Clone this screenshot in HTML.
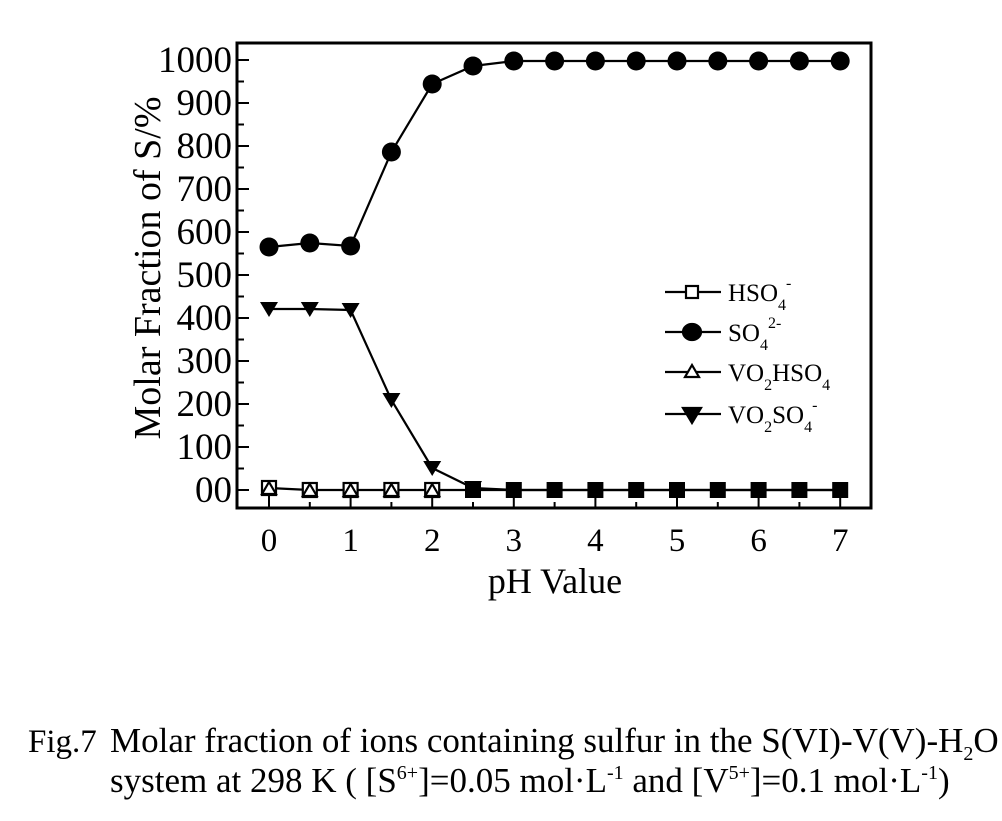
<!DOCTYPE html>
<html><head><meta charset="utf-8"><style>
body{margin:0;background:#fff;}
svg{display:block;font-family:"Liberation Serif",serif;}
</style></head><body>
<svg width="1002" height="821" viewBox="0 0 1002 821">
<rect x="237" y="43" width="634" height="465" fill="none" stroke="#000" stroke-width="3"/>
<g stroke="#000" stroke-width="2">
<path d="M237 60h12M237 103h12M237 146h12M237 189h12M237 232h12M237 275h12M237 318h12M237 361h12M237 404h12M237 447h12M237 490h12"/>
<path d="M237 81.5h7M237 124.5h7M237 167.5h7M237 210.5h7M237 253.5h7M237 296.5h7M237 339.5h7M237 382.5h7M237 425.5h7M237 468.5h7"/>
<path d="M269 508v-12M350.6 508v-12M432.2 508v-12M513.8 508v-12M595.4 508v-12M677 508v-12M758.6 508v-12M840.2 508v-12"/>
<path d="M309.8 508v-6M391.4 508v-6M473 508v-6M554.6 508v-6M636.2 508v-6M717.8 508v-6M799.4 508v-6"/>
</g>
<g font-size="37" text-anchor="end">
<text x="232" y="72">1000</text><text x="232" y="115">900</text><text x="232" y="158">800</text><text x="232" y="201">700</text><text x="232" y="244">600</text><text x="232" y="287">500</text><text x="232" y="330">400</text><text x="232" y="373">300</text><text x="232" y="416">200</text><text x="232" y="459">100</text><text x="232" y="502">00</text>
</g>
<g font-size="33" text-anchor="middle">
<text x="269" y="551">0</text><text x="350.6" y="551">1</text><text x="432.2" y="551">2</text><text x="513.8" y="551">3</text><text x="595.4" y="551">4</text><text x="677" y="551">5</text><text x="758.6" y="551">6</text><text x="840.2" y="551">7</text>
<text x="555" y="593" font-size="36">pH Value</text>
<text transform="translate(160,268) rotate(-90)" font-size="38">Molar Fraction of S/%</text>
</g>
<g fill="none" stroke="#000" stroke-width="2.2">
<polyline points="269,488 309.8,490 350.6,490 391.4,490 432.2,490 473,490 513.8,490 554.6,490 595.4,490 636.2,490 677,490 717.8,490 758.6,490 799.4,490 840.2,490"/>
<polyline points="269,247 309.8,243 350.6,246 391.4,152 432.2,84 473,66 513.8,61 554.6,61 595.4,61 636.2,61 677,61 717.8,61 758.6,61 799.4,61 840.2,61"/>
<polyline points="269,309 309.8,309 350.6,310 391.4,400 432.2,468 473,488 513.8,490 840.2,490"/>
</g>
<g fill="#000">
<circle cx="269" cy="247" r="9.5"/><circle cx="309.8" cy="243" r="9.5"/><circle cx="350.6" cy="246" r="9.5"/><circle cx="391.4" cy="152" r="9.5"/><circle cx="432.2" cy="84" r="9.5"/><circle cx="473" cy="66" r="9.5"/><circle cx="513.8" cy="61" r="9.5"/><circle cx="554.6" cy="61" r="9.5"/><circle cx="595.4" cy="61" r="9.5"/><circle cx="636.2" cy="61" r="9.5"/><circle cx="677" cy="61" r="9.5"/><circle cx="717.8" cy="61" r="9.5"/><circle cx="758.6" cy="61" r="9.5"/><circle cx="799.4" cy="61" r="9.5"/><circle cx="840.2" cy="61" r="9.5"/>
<path d="M260 302h18l-9 15zM300.8 302h18l-9 15zM341.6 303h18l-9 15zM382.4 393h18l-9 15zM423.2 461h18l-9 15zM464 481h18l-9 15z"/>
<path d="M465 482h16v16h-16zM505.8 482h16v16h-16zM546.6 482h16v16h-16zM587.4 482h16v16h-16zM628.2 482h16v16h-16zM669 482h16v16h-16zM709.8 482h16v16h-16zM750.6 482h16v16h-16zM791.4 482h16v16h-16zM832.2 482h16v16h-16z"/>
</g>
<g fill="#fff" stroke="#000" stroke-width="2.2">
<rect x="262" y="481" width="14" height="14"/><rect x="302.8" y="483" width="14" height="14"/><rect x="343.6" y="483" width="14" height="14"/><rect x="384.4" y="483" width="14" height="14"/><rect x="425.2" y="483" width="14" height="14"/>
<path d="M269 482l7 12h-14zM309.8 484l7 12h-14zM350.6 484l7 12h-14zM391.4 484l7 12h-14zM432.2 484l7 12h-14z"/>
</g>
<g stroke="#000" stroke-width="2.2">
<path d="M665 292h56M665 332h56M665 372h56M665 414h56"/>
<rect x="686" y="286" width="12" height="12" fill="#fff"/>
<ellipse cx="692" cy="332" rx="9" ry="8" fill="#000"/>
<path d="M692 365l7 12h-14z" fill="#fff"/>
<path d="M683 408h18l-9 15z" fill="#000"/>
</g>
<g font-size="25">
<text x="728" y="301">HSO<tspan font-size="16" dy="9">4</tspan><tspan font-size="16" dy="-22">-</tspan></text>
<text x="728" y="341">SO<tspan font-size="16" dy="9">4</tspan><tspan font-size="16" dy="-22">2-</tspan></text>
<text x="728" y="381">VO<tspan font-size="16" dy="9">2</tspan><tspan dy="-9">HSO</tspan><tspan font-size="16" dy="9">4</tspan></text>
<text x="728" y="423">VO<tspan font-size="16" dy="9">2</tspan><tspan dy="-9">SO</tspan><tspan font-size="16" dy="9">4</tspan><tspan font-size="16" dy="-22">-</tspan></text>
</g>
<g font-size="35">
<text x="28" y="752" font-size="33">Fig.7</text>
<text x="110" y="752">Molar fraction of ions containing sulfur in the S(VI)-V(V)-H<tspan font-size="20" dy="8">2</tspan><tspan dy="-8">O</tspan></text>
<text x="110" y="792">system at 298 K ( [S<tspan font-size="20" dy="-13">6+</tspan><tspan dy="13">]=0.05 mol·L</tspan><tspan font-size="20" dy="-13">-1</tspan><tspan dy="13"> and [V</tspan><tspan font-size="20" dy="-13">5+</tspan><tspan dy="13">]=0.1 mol·L</tspan><tspan font-size="20" dy="-13">-1</tspan><tspan dy="13">)</tspan></text>
</g>
</svg>
</body></html>
